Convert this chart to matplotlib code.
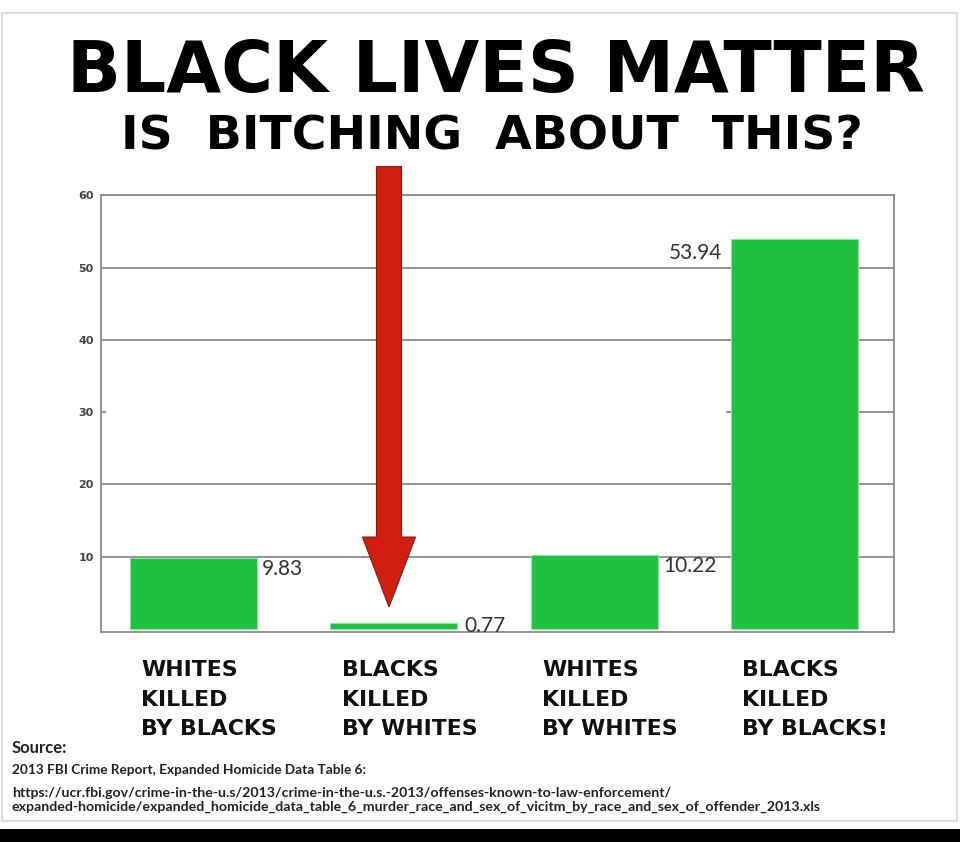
import matplotlib
matplotlib.use("Agg")
import matplotlib.pyplot as plt
from matplotlib.patches import FancyArrow, Rectangle
from matplotlib.transforms import blended_transform_factory

# %%
# data
categories = ["WHITES\nKILLED\nBY BLACKS", "BLACKS\nKILLED\nBY WHITES",
              "WHITES\nKILLED\nBY WHITES", "BLACKS\nKILLED\nBY BLACKS!"]
values = [9.83, 0.77, 10.22, 53.94]
value_labels = ["9.83", "0.77", "10.22", "53.94"]
yticks = [10, 20, 30, 40, 50, 60]

title = "BLACK LIVES MATTER"
subtitle = "IS  BITCHING  ABOUT  THIS?"
source_head = "Source:"
source_line = "2013 FBI Crime Report, Expanded Homicide Data Table 6:"
url_lines = ["https://ucr.fbi.gov/crime-in-the-u.s/2013/crime-in-the-u.s.-2013/offenses-known-to-law-enforcement/",
             "expanded-homicide/expanded_homicide_data_table_6_murder_race_and_sex_of_vicitm_by_race_and_sex_of_offender_2013.xls"]

green = "#1fc23e"
grid_c = "#8a8a8a"

# %%
fig = plt.figure(figsize=(9.6, 8.42), dpi=100)
fig.patch.set_facecolor("white")

# frame of the picture and black band at the bottom
fig.add_artist(Rectangle((2 / 960, 1 - 821 / 842), 955 / 960, 808 / 842,
                         transform=fig.transFigure, fill=False,
                         edgecolor="#d6d6d6", lw=1.2))
fig.add_artist(Rectangle((0, 0), 1, 13 / 842, transform=fig.transFigure,
                         facecolor="black", edgecolor="none"))

ax = fig.add_axes([0.1049, 0.2490, 0.8264, 0.5189])
x = list(range(len(values)))
ax.bar(x, values, width=0.634, color=green, edgecolor="#8fe39c",
       linewidth=0.8, zorder=3)

ax.set_xlim(-0.4616, 3.497)
ax.set_ylim(-0.5, 60)

# gridlines (the 30 line is only left on the right side in the original)
for t in yticks:
    if t == 30:
        ax.axhline(t, xmin=0.0, xmax=0.006, color=grid_c, lw=1.3, zorder=1)
        ax.axhline(t, xmin=0.79, xmax=1.0, color=grid_c, lw=1.3, zorder=1)
    else:
        ax.axhline(t, color=grid_c, lw=1.3, zorder=1)

for s in ["left", "right", "bottom", "top"]:
    ax.spines[s].set_color(grid_c)
    ax.spines[s].set_linewidth(1.3)

ax.set_xticks([])
ax.set_yticks(yticks)
ax.set_yticklabels([str(t) for t in yticks], fontsize=8, fontweight="bold",
                   color="#444444")
ax.tick_params(axis="y", length=0, pad=5)

# value labels
for i, (v, lab) in enumerate(zip(values, value_labels)):
    if i == 3:
        ax.annotate(lab, (i - 0.317, v), xytext=(-6, -3),
                    textcoords="offset points", ha="right", va="top",
                    fontsize=15, family="Lato", color="#333333")
    elif v < 2:
        ax.annotate(lab, (i + 0.317, v), xytext=(5, -2),
                    textcoords="offset points", ha="left", va="center",
                    fontsize=15, family="Lato", color="#333333")
    else:
        ax.annotate(lab, (i + 0.317, v), xytext=(4, -1),
                    textcoords="offset points", ha="left", va="top",
                    fontsize=15, family="Lato", color="#333333")

# red arrow pointing at the small bar
small = values.index(min(values))
ax.add_patch(FancyArrow(small - 0.023, 64.0, 0, -61.0, width=0.125,
                        head_width=0.265, head_length=9.7,
                        length_includes_head=True, facecolor="#d01f0e",
                        edgecolor="#8c1a10", lw=0.8, clip_on=False, zorder=5))

# category labels under the bars
tr = blended_transform_factory(ax.transData, fig.transFigure)
for i, cat in enumerate(categories):
    for k, line in enumerate(cat.split("\n")):
        ax.text(i - 0.26, 1 - (676 + 29.5 * k) / 842, line, transform=tr,
                ha="left", va="baseline", fontsize=15.8, fontweight="bold",
                family="DejaVu Sans", color="#111111")

# titles
fig.text(0.517, 1 - 92 / 842, title, ha="center", va="baseline",
         fontsize=51, fontweight="bold", family="DejaVu Sans", color="black")
fig.text(0.512, 1 - 150 / 842, subtitle, ha="center", va="baseline",
         fontsize=34, fontweight="bold", family="DejaVu Sans", color="black")

# source
fig.text(12 / 960, 1 - 753 / 842, source_head, ha="left", va="baseline",
         fontsize=12, fontweight="bold", family="Lato", color="#222222")
fig.text(12 / 960, 1 - 774 / 842, source_line, ha="left", va="baseline",
         fontsize=9.8, fontweight="bold", family="Lato", color="#222222")
for k, u in enumerate(url_lines):
    fig.text(12 / 960, 1 - (797 + 14 * k) / 842, u, ha="left", va="baseline",
             fontsize=10.2, fontweight="bold", family="Lato", color="#222222")

plt.savefig("out.png", dpi=100)
